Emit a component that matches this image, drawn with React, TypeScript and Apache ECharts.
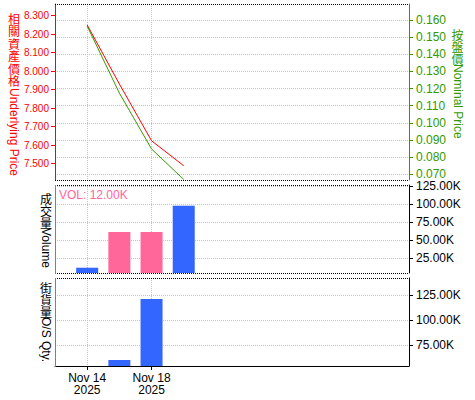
import React, { useEffect, useRef } from "react";
import * as echarts from "echarts";

// ---- data ----
const categories = ["Nov 14\n2025", "Nov 17\n2025", "Nov 18\n2025", "Nov 19\n2025"];
const labelledIndices = [0, 2];
const underlyingPrice = [8.25, 7.931, 7.624, 7.489];
const nominalPrice = [0.1565, 0.1174, 0.0848, 0.067];
const volume = [12000, 61400, 61400, 97800];
const volumeSide = ["buy", "sell", "sell", "buy"];
const osQty: (number | string)[] = ["-", 60000, 121000, "-"];
const underlyingTicks = [7.5, 7.6, 7.7, 7.8, 7.9, 8.0, 8.1, 8.2, 8.3];
const nominalTicks = [0.07, 0.08, 0.09, 0.1, 0.11, 0.12, 0.13, 0.14, 0.15, 0.16];
const volumeTicks = [25000, 50000, 75000, 100000, 125000];
const osTicks = [75000, 100000, 125000];
const volLabel = "VOL: 12.00K";

const FONT = '"Liberation Sans", Arial, sans-serif';
const CJK = '"Noto Sans CJK TC", "Noto Sans CJK SC", sans-serif';
const RED = "#ff0000";
const GREEN = "#339900";
const BLUE = "#3366ff";
const PINK = "#ff6699";
const GRID_LINE = { show: true, lineStyle: { color: "#c4c4c4", type: [1, 1] as any, width: 1 } };

const L = 55, R = 409;

function App() {
  const ref = useRef<HTMLDivElement>(null);
  useEffect(() => {
    if (!ref.current) return;
    const chart = echarts.init(ref.current, null, { renderer: "svg" });
    const xBase = (idx: number, showLabels: boolean) => ({
      type: "value",
      gridIndex: idx,
      min: -1,
      max: 10,
      axisLine: { show: showLabels, onZero: false, lineStyle: { color: "#000", width: 1 } },
      axisTick: { show: showLabels, length: 4, customValues: labelledIndices, lineStyle: { color: "#000" } },
      axisLabel: {
        show: showLabels,
        customValues: labelledIndices,
        formatter: (v: number) => categories[Math.round(v)] ?? "",
        color: "#000",
        fontSize: 12,
        fontFamily: FONT,
        lineHeight: 12,
        margin: 6,
      },
      splitLine: GRID_LINE,
    });
    const yBase = (grid: number, pos: string, min: number, max: number, ticks: number[], color: string,
                   fmt: (v: number) => string, fontSize: number, margin: number, split: boolean) => ({
      type: "value",
      gridIndex: grid,
      position: pos,
      min,
      max,
      axisLine: { show: true, onZero: false, lineStyle: { color } },
      axisTick: { show: true, length: 4, customValues: ticks, lineStyle: { color } },
      axisLabel: { customValues: ticks, formatter: fmt, color, fontSize, fontFamily: FONT, margin },
      splitLine: split ? GRID_LINE : { show: false },
    });
    const kFmt = (v: number) => (v / 1000).toFixed(2) + "K";
    const pFmt = (v: number) => v.toFixed(3);
    const seg = (x1: number, y1: number, x2: number, y2: number, color = "#000", dash: any = [1, 1]) => ({
      type: "line",
      z: 10,
      silent: true,
      shape: { x1, y1, x2, y2 },
      style: { stroke: color, lineWidth: 1, lineDash: dash },
    });
    const vText = (x: number, y: number, cjk: string, step: number, latin: string, latinY: number, color: string) => [
      ...cjk.split("").map((ch, k) => ({
        type: "text",
        x,
        y: y + k * step,
        z: 10,
        style: {
          text: ch,
          fill: color,
          font: `12px ${CJK}`,
          textAlign: "center",
          textVerticalAlign: "top",
        },
      })),
      {
        type: "text",
        x,
        y: latinY,
        rotation: -Math.PI / 2,
        z: 10,
        style: {
          text: latin,
          fill: color,
          font: `12px ${FONT}`,
          textAlign: "left",
          textVerticalAlign: "middle",
        },
      },
    ];
    chart.setOption({
      animation: false,
      backgroundColor: "#fff",
      grid: [
        { left: L, right: 475 - R, top: 4, height: 176 },
        { left: L, right: 475 - R, top: 185, height: 88 },
        { left: L, right: 475 - R, top: 278, height: 88 },
      ],
      xAxis: [xBase(0, false), xBase(1, false), xBase(2, true)],
      yAxis: [
        yBase(0, "left", 7.4119, 8.3632, underlyingTicks, RED, pFmt, 10, 6, false),
        yBase(0, "right", 0.0667, 0.16933, nominalTicks, GREEN, pFmt, 12, 7, true),
        yBase(1, "right", 4700, 126400, volumeTicks, "#000", kFmt, 12, 7, true),
        yBase(2, "right", 54000, 142000, osTicks, "#000", kFmt, 12, 7, true),
      ],
      series: [
        {
          type: "line",
          xAxisIndex: 0,
          yAxisIndex: 0,
          data: underlyingPrice.map((v, i) => [i, v]),
          showSymbol: false,
          lineStyle: { color: RED, width: 1 },
          itemStyle: { color: RED },
          z: 3,
        },
        {
          type: "line",
          xAxisIndex: 0,
          yAxisIndex: 1,
          data: nominalPrice.map((v, i) => [i, v]),
          showSymbol: false,
          lineStyle: { color: GREEN, width: 1 },
          itemStyle: { color: GREEN },
          z: 3,
        },
        {
          type: "bar",
          xAxisIndex: 1,
          yAxisIndex: 2,
          barWidth: 22,
          data: volume.map((v, i) => ({
            value: [i, v],
            itemStyle: { color: volumeSide[i] === "sell" ? PINK : BLUE },
          })),
        },
        {
          type: "bar",
          xAxisIndex: 2,
          yAxisIndex: 3,
          barWidth: 22,
          itemStyle: { color: BLUE },
          data: osQty.map((v, i) => [i, v]),
        },
      ],
      graphic: [
        seg(L, 4.5, R, 4.5),
        seg(L, 180.5, R, 180.5),
        seg(L, 185.5, R, 185.5),
        seg(L, 273.5, R, 273.5),
        seg(L, 278.5, R, 278.5),
        seg(55.5, 185, 55.5, 274, "#808080", null),
        seg(55.5, 278, 55.5, 367, "#808080", null),
        {
          type: "text",
          x: 59,
          y: 189,
          z: 10,
          style: { text: volLabel, fill: PINK, font: `12px ${FONT}`, textVerticalAlign: "top" },
        },
        ...vText(14, 12, "相關資產價格", 12.5, "Underlying Price", 88, RED),
        ...vText(457.5, 28, "按盤價", 12, "Nominal Price", 64, GREEN),
        ...vText(46, 192, "成交量", 12, "Volume", 228, "#000"),
        ...vText(46, 281, "街貨量", 12, "O/S Qty.", 317, "#000"),
      ],
    });
    return () => chart.dispose();
  }, []);
  return <div ref={ref} style={{ position: "absolute", left: 0, top: 0, width: 475, height: 400 }} />;
}

export default App;
